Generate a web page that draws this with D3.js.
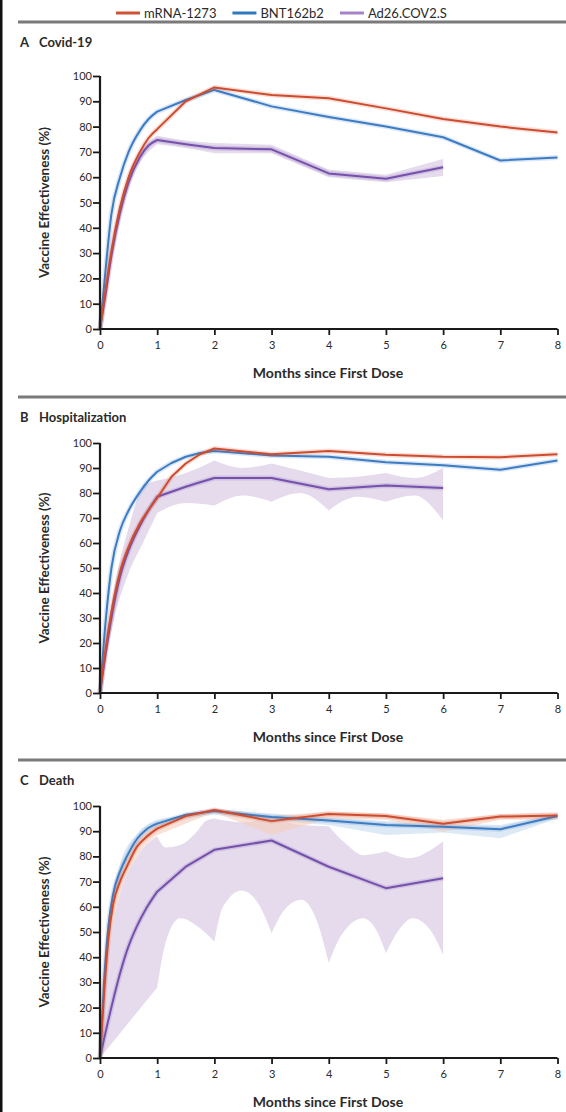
<html>
<head>
<meta charset="utf-8">
<title>Vaccine Effectiveness</title>
<script src="https://cdn.jsdelivr.net/npm/d3@7"></script>
<style>
  body { margin: 0; background: #fff; }
  text { font-family: Lato, "Open Sans", sans-serif; fill: #2a2a2a; }
</style>
</head>
<body>
<svg width="566" height="1112"></svg>
<script>
// ---- data ----
var seriesNames = ["mRNA-1273", "BNT162b2", "Ad26.COV2.S"];
var xTicks = [0, 1, 2, 3, 4, 5, 6, 7, 8];
var yTicks = [0, 10, 20, 30, 40, 50, 60, 70, 80, 90, 100];

// A: Covid-19
var monthsA = [0, 0.1, 0.2, 0.35, 0.5, 0.7, 0.85, 1, 1.5, 2, 3, 4, 5, 6, 7, 8];
var mrnaA = [0, 16, 31, 48, 60, 70, 75.5, 79, 90, 95.5, 92.5, 91.2, 87.2, 83, 80, 77.7];
var bntA  = [0, 24, 45.5, 60, 70, 78.5, 83, 85.9, 90.5, 94.5, 88, 83.8, 80, 75.8, 66.6, 67.8];
var ad26A = [0, 14, 29, 46, 58, 68, 72.5, 74.7, 73, 71.5, 71, 61.5, 59.4, 63.9, null, null];
var ad26HiA = [[0,0],[0.25,38],[0.5,61],[1,76.5],[1.5,74.5],[2,73.5],[3,72.8],[4,63],[5,61],[6,67.2]];
var ad26LoA = [[0,0],[0.25,32],[0.5,55],[1,73],[1.5,71.5],[2,69.5],[3,69.5],[4,60],[5,58],[6,60.5]];

// B: Hospitalization
var monthsB = [0, 0.1, 0.2, 0.35, 0.5, 0.7, 0.85, 1, 1.25, 1.5, 1.75, 2, 3, 4, 5, 6, 7, 8];
var mrnaB = [0, 18, 32.5, 48.5, 58.5, 68, 73.2, 78, 86.5, 91.8, 95.5, 97.8, 95.5, 96.8, 95.3, 94.5, 94.3, 95.5];
var bntB  = [0, 29, 50, 65, 73, 80.5, 85, 88.5, 92, 94.5, 96, 96.8, 95, 94.5, 92.3, 91.1, 89.3, 93];
var ad26B = [0, 16, 30, 46.5, 57, 67, 73.2, 78.5, 80.5, 82.5, 84.3, 86, 86, 81.5, 83, 82, null, null];
var ad26HiB = [[0,0],[0.25,42],[0.5,66],[0.75,82],[1,85],[1.5,88],[2,93],[2.5,90],[3,91.8],[3.5,89],[4,86],[4.5,86.5],[5,88],[5.5,86],[6,90]];
var ad26LoB = [[0,0],[0.25,30],[0.5,48],[0.75,60],[1,72],[1.5,76],[2,75],[2.5,79],[3,76.5],[3.5,80],[4,73],[4.5,78.5],[5,76.5],[5.5,79],[6,69]];

// C: Death
var monthsC = [0, 0.07, 0.15, 0.23, 0.35, 0.47, 0.65, 0.8, 1, 1.5, 2, 3, 4, 5, 6, 7, 8];
var mrnaC = [0, 25, 48, 61, 70, 76, 84, 87.5, 91, 96, 98.4, 94, 96.8, 96, 93, 95.8, 96.2];
var bntC  = [0, 30, 53, 65, 74, 80, 87, 90.5, 93, 96.5, 98, 95.6, 94.2, 92.5, 91.8, 90.8, 96];
var ad26C = [0, 7.5, 15.5, 23, 33.5, 42.5, 52.5, 59, 66, 75.9, 82.6, 86.3, 75.9, 67.4, 71.3, null, null];
var mrnaHiC = [[0,0],[0.15,52],[0.35,73],[0.65,86],[1,92.5],[2,99],[3,96],[4,97.8],[5,97],[6,94.5],[7,96.8],[8,97.5]];
var mrnaLoC = [[0,0],[0.15,42],[0.35,65],[0.65,80],[1,88.5],[2,97.5],[3,88.5],[4,95],[5,94.5],[6,89.8],[7,94.5],[8,94.5]];
var bntHiC = [[0,0],[0.15,56],[0.35,77],[0.65,89],[1,94.5],[2,98.8],[3,97],[4,95.5],[5,94],[6,93],[7,92.5],[8,97]];
var bntLoC = [[0,0],[0.15,50],[0.35,71],[0.65,85],[1,91],[1.5,94.5],[2,96.5],[3,94],[4,92.5],[5,88.5],[6,89.5],[7,87.2],[8,95]];
var ad26HiC = [[0,0],[0.15,42],[0.35,65],[0.65,80],[1,88],[1.15,83.5],[1.4,84.5],[1.7,90],[1.85,94],[2,95],[2.5,93.5],[3,96],[3.5,92.5],[4,92],[4.3,85],[4.6,80.5],[5,82],[5.4,79.3],[6,86]];
var ad26LoC = [[0,0],[1,28],[1.15,46],[1.4,55.5],[1.75,51.5],[2,46.2],[2.15,60],[2.48,66.5],[2.8,60],[3,49.5],[3.2,58],[3.52,62.8],[3.8,54],[4,37.7],[4.2,48],[4.6,55.5],[4.85,50],[5,41.6],[5.2,50],[5.47,55.5],[5.8,50],[6,40.9]];

// ---- styles ----
var lineColor = {mrna: "#cf4b2e", bnt: "#3b7cc4", ad26: "#7550ad"};
var legendColor = ["#cf5233", "#2f78bf", "#a683c9"];
var bandFill = {mrna: "#f4cdbd", bnt: "#cfdff1", ad26: "#e5dbec"};

var svg = d3.select("svg");

// left frame rule
svg.append("rect").attr("x", 0).attr("y", 0).attr("width", 2.5).attr("height", 1112).attr("fill", "#111");

// legend
var legend = svg.append("g").attr("transform", "translate(116,13)");
var lx = 0;
seriesNames.forEach(function(name, i) {
  legend.append("line").attr("x1", lx).attr("x2", lx + 24).attr("y1", 0).attr("y2", 0)
    .attr("stroke", legendColor[i]).attr("stroke-width", 3);
  var t = legend.append("text").attr("x", lx + 28).attr("y", 4.5).style("font-size", "13px").text(name);
  lx += 28 + t.node().getComputedTextLength() + 16;
});

var x = d3.scaleLinear().domain([0, 8]).range([100, 557.5]);

// splits an edge at whole months so each month gets its own smooth piece
function edgePath(pts, gen) {
  var groups = [], cur = [pts[0]];
  for (var i = 1; i < pts.length; i++) {
    cur.push(pts[i]);
    if (Number.isInteger(pts[i][0]) && i < pts.length - 1) { groups.push(cur); cur = [pts[i]]; }
  }
  groups.push(cur);
  return groups.map(function(g, k) {
    var s = gen(g);
    return k === 0 ? s : s.replace(/^M/, "L");
  }).join("");
}

function drawPanel(p) {
  var y = d3.scaleLinear().domain([0, 100]).range([p.bottom, p.top]);
  var g = svg.append("g");

  // section rule and heading
  g.append("rect").attr("x", 18).attr("y", p.rule - 1.5).attr("width", 548).attr("height", 3).attr("fill", "#7a7a7a");
  g.append("text").attr("x", 20).attr("y", p.rule + 25).style("font-size", "13px").style("font-weight", "bold").text(p.letter);
  g.append("text").attr("x", 39).attr("y", p.rule + 25).style("font-size", "13px").style("font-weight", "bold").text(p.title);

  var edge = d3.line().x(function(d) { return x(d[0]); }).y(function(d) { return y(d[1]); }).curve(d3.curveMonotoneX);
  p.bands.forEach(function(b) {
    var d = edgePath(b.hi, edge) + edgePath(b.lo.slice().reverse(), edge).replace(/^M/, "L") + "Z";
    g.append("path").attr("d", d).attr("fill", bandFill[b.key]).attr("fill-opacity", b.opacity || 1);
  });

  // first month is a smooth rise, later months are joined straight
  var rise = d3.line().x(function(d) { return x(d[0]); }).y(function(d) { return y(d[1]); }).curve(d3.curveMonotoneX);
  var rest = d3.line().x(function(d) { return x(d[0]); }).y(function(d) { return y(d[1]); });
  p.lines.forEach(function(s) {
    var pts = p.months.map(function(m, i) { return [m, s.vals[i]]; })
      .filter(function(d) { return d[1] != null; });
    var d = rise(pts.filter(function(q) { return q[0] <= 1; })) +
            rest(pts.filter(function(q) { return q[0] >= 1; })).replace(/^M/, "L");
    g.append("path").attr("d", d).attr("fill", "none")
      .attr("stroke", lineColor[s.key]).attr("stroke-opacity", 0.18).attr("stroke-width", 5).attr("stroke-linejoin", "round");
    g.append("path").attr("d", d).attr("fill", "none")
      .attr("stroke", lineColor[s.key]).attr("stroke-width", 2).attr("stroke-linejoin", "round");
  });

  var yAxis = g.append("g").attr("transform", "translate(100,0)")
    .call(d3.axisLeft(y).tickValues(yTicks).tickSize(7).tickPadding(1));
  var xAxis = g.append("g").attr("transform", "translate(0," + p.bottom + ")")
    .call(d3.axisBottom(x).tickValues(xTicks).tickSize(6).tickPadding(6));
  [yAxis, xAxis].forEach(function(a) {
    a.select(".domain").attr("stroke", "#1a1a1a").attr("stroke-width", 2.2);
    a.selectAll(".tick line").attr("stroke", "#1a1a1a").attr("stroke-width", 1.8);
    a.selectAll(".tick text").style("font-size", "11px").style("font-family", null).attr("fill", "#333");
  });
  yAxis.select(".domain").attr("d", "M0," + p.bottom + "V" + p.top);
  xAxis.select(".domain").attr("d", "M100,0H557.5");

  g.append("text")
    .attr("transform", "translate(49," + ((p.top + p.bottom) / 2) + ") rotate(-90)")
    .attr("text-anchor", "middle").style("font-size", "13.5px").style("font-weight", "bold")
    .text("Vaccine Effectiveness (%)");
  g.append("text").attr("x", 328).attr("y", p.bottom + 49).attr("text-anchor", "middle")
    .style("font-size", "14px").style("font-weight", "bold").text("Months since First Dose");
}

drawPanel({
  letter: "A", title: "Covid-19", rule: 22, top: 76, bottom: 329, months: monthsA,
  bands: [{key: "ad26", hi: ad26HiA, lo: ad26LoA}],
  lines: [{key: "ad26", vals: ad26A}, {key: "bnt", vals: bntA}, {key: "mrna", vals: mrnaA}]
});
drawPanel({
  letter: "B", title: "Hospitalization", rule: 397, top: 443, bottom: 693, months: monthsB,
  bands: [{key: "ad26", hi: ad26HiB, lo: ad26LoB}],
  lines: [{key: "ad26", vals: ad26B}, {key: "bnt", vals: bntB}, {key: "mrna", vals: mrnaB}]
});
drawPanel({
  letter: "C", title: "Death", rule: 760, top: 806, bottom: 1058, months: monthsC,
  bands: [{key: "ad26", hi: ad26HiC, lo: ad26LoC},
          {key: "bnt", hi: bntHiC, lo: bntLoC, opacity: 0.7},
          {key: "mrna", hi: mrnaHiC, lo: mrnaLoC, opacity: 0.6}],
  lines: [{key: "ad26", vals: ad26C}, {key: "bnt", vals: bntC}, {key: "mrna", vals: mrnaC}]
});
</script>
</body>
</html>
